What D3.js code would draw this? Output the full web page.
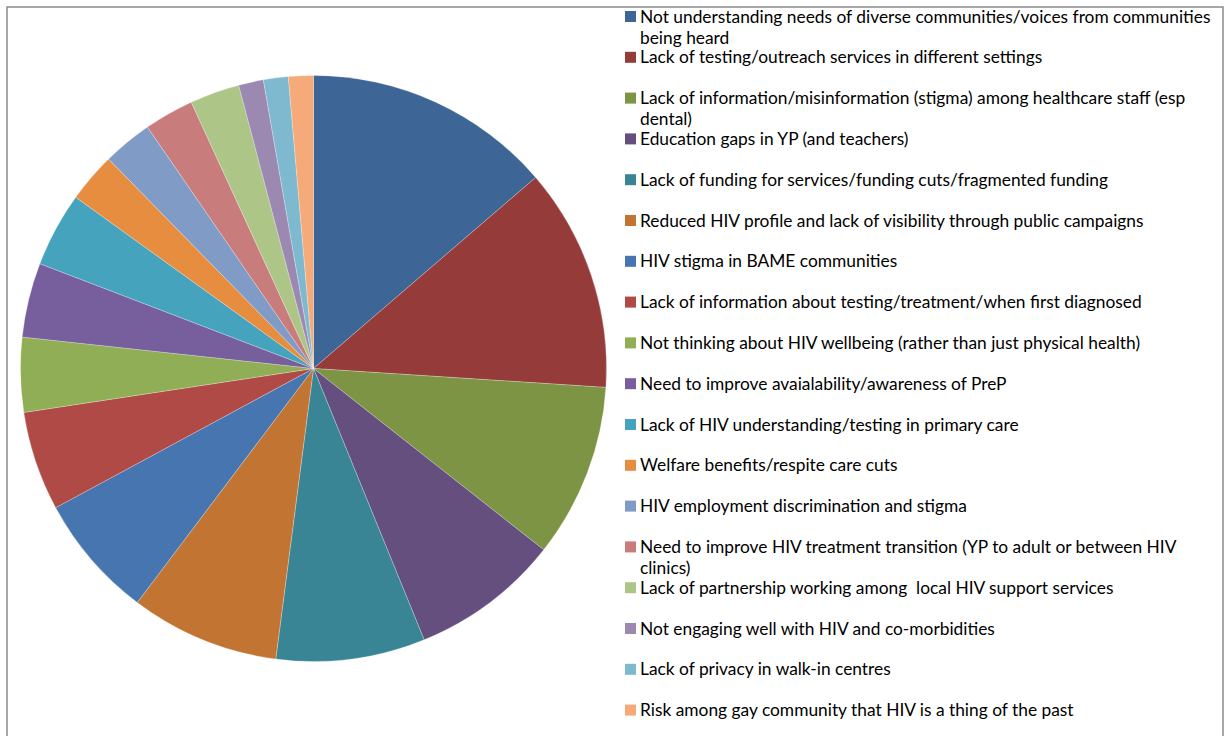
<!DOCTYPE html>
<html>
<head>
<meta charset="utf-8">
<script src="https://cdn.jsdelivr.net/npm/d3@7"></script>
<style>
  html, body { margin: 0; padding: 0; background: #fff; }
  svg { display: block; }
  .legend text { white-space: pre; }
</style>
</head>
<body>
<div id="chart"></div>
<script>
// Issues raised, with the number of mentions for each
const categories = [
  "Not understanding needs of diverse communities/voices from communities being heard",
  "Lack of testing/outreach services in different settings",
  "Lack of information/misinformation (stigma) among healthcare staff (esp dental)",
  "Education gaps in YP (and teachers)",
  "Lack of funding for services/funding cuts/fragmented funding",
  "Reduced HIV profile and lack of visibility through public campaigns",
  "HIV stigma in BAME communities",
  "Lack of information about testing/treatment/when first diagnosed",
  "Not thinking about HIV wellbeing (rather than just physical health)",
  "Need to improve avaialability/awareness of PreP",
  "Lack of HIV understanding/testing in primary care",
  "Welfare benefits/respite care cuts",
  "HIV employment discrimination and stigma",
  "Need to improve HIV treatment transition (YP to adult or between HIV clinics)",
  "Lack of partnership working among  local HIV support services",
  "Not engaging well with HIV and co-morbidities",
  "Lack of privacy in walk-in centres",
  "Risk among gay community that HIV is a thing of the past"
];
const counts = [10, 9, 7, 6, 6, 6, 5, 4, 3, 3, 3, 2, 2, 2, 2, 1, 1, 1];
const palette = [
  "#3d6595", "#953b3a", "#7c9443", "#644f7e", "#398596", "#c27533",
  "#4675b0", "#b04a46", "#8fae55", "#775e9c", "#46a3bd", "#e78d40",
  "#7f9bc6", "#c87c7b", "#adc688", "#9c89b2", "#7fb9cf", "#f7aa79"
];

const W = 1225, H = 736;
const svg = d3.select("#chart").append("svg")
  .attr("width", W).attr("height", H);

// chart frame
svg.append("rect")
  .attr("x", 7).attr("y", 7)
  .attr("width", 1216).attr("height", H + 20)
  .attr("fill", "#fff")
  .attr("stroke", "#8a8a8a")
  .attr("stroke-width", 1.5);

// pie
const cx = 313.5, cy = 368.5, R = 293;
const pie = d3.pie().sort(null).value(d => d.v);
const arc = d3.arc().innerRadius(0).outerRadius(R);
const data = categories.map((c, i) => ({ c, v: counts[i], i }));

svg.append("g")
  .attr("transform", `translate(${cx},${cy})`)
  .selectAll("path")
  .data(pie(data))
  .join("path")
  .attr("d", arc)
  .attr("fill", d => palette[d.data.i])
  .attr("stroke", "#fff")
  .attr("stroke-width", 0.25);

// legend
const fontFamily = "Lato, 'Liberation Sans', sans-serif";
const textX = 640, wrapWidth = 576;
const legend = svg.append("g").attr("class", "legend");

// size the text so the longest legend line spans the intended width
const probe = legend.append("text")
  .attr("font-family", fontFamily).attr("font-size", 100)
  .text("Not understanding needs of diverse communities/voices from communities");
const probeW = probe.node().getComputedTextLength();
probe.remove();
const fontSize = 100 * 571 / probeW;

const rowY = i => 16.5 + 40.8 * i;
const lineGap = 21;

data.forEach((d, i) => {
  const y = rowY(i);
  legend.append("rect")
    .attr("x", 625).attr("y", y - 5.5)
    .attr("width", 11).attr("height", 11)
    .attr("fill", palette[i]);

  const t = legend.append("text")
    .attr("font-family", fontFamily)
    .attr("font-size", fontSize)
    .attr("fill", "#000")
    .attr("x", textX).attr("y", y);

  // simple word wrap
  const words = d.c.split(" ");
  let line = [];
  let lineNo = 0;
  let tspan = t.append("tspan").attr("x", textX).attr("y", y).attr("dy", "0.35em");
  words.forEach(w => {
    line.push(w);
    tspan.text(line.join(" "));
    if (tspan.node().getComputedTextLength() > wrapWidth && line.length > 1) {
      line.pop();
      tspan.text(line.join(" "));
      line = [w];
      lineNo++;
      tspan = t.append("tspan").attr("x", textX)
        .attr("y", y + lineGap * lineNo).attr("dy", "0.35em").text(w);
    }
  });
});
</script>
</body>
</html>
